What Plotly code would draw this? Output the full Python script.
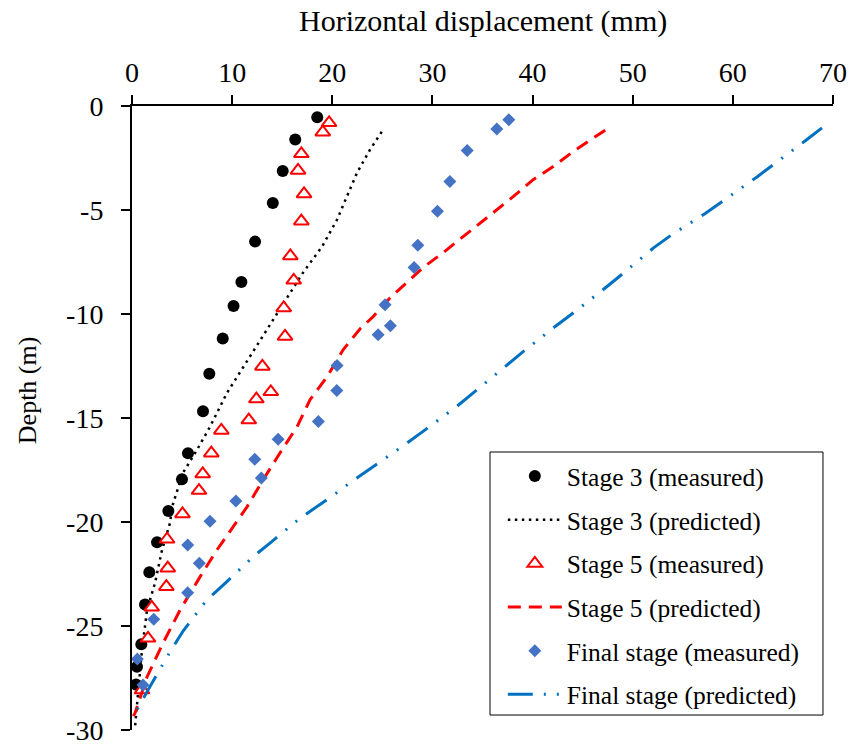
import plotly.graph_objects as go

# ---- Data ----
# Stage 3 measured: horizontal displacement (mm), depth (m)
s3m_x = [18.5, 16.3, 15.05, 14.06, 12.29, 10.92, 10.14, 9.06, 7.72, 7.09, 5.59, 4.99,
         3.63, 2.50, 1.73, 1.30, 0.93, 0.50, 0.40]
s3m_y = [-0.54, -1.61, -3.12, -4.66, -6.52, -8.46, -9.62, -11.18, -12.87, -14.67, -16.69,
         -17.94, -19.47, -20.97, -22.42, -23.97, -25.88, -26.96, -27.81]

# Stage 3 predicted
s3p_x = [24.94, 23.78, 22.48, 21.78, 21.48, 20.48, 18.98, 17.08, 15.48, 14.09, 12.79, 11.09,
         9.49, 7.79, 6.49, 5.09, 4.00, 3.80, 3.00, 2.30, 1.50, 1.00, 0.50, 0.30]
s3p_y = [-1.24, -2.09, -3.20, -4.02, -4.36, -5.46, -6.76, -8.01, -9.22, -10.27, -11.24, -12.54,
         -13.79, -15.42, -16.53, -17.64, -19.27, -20.04, -21.34, -22.93, -24.23, -26.15, -28.56, -29.86]

# Stage 5 measured
s5m_x = [19.68, 19.05, 16.91, 16.58, 17.18, 16.91, 15.81, 16.15, 15.15, 15.28, 13.02, 13.86,
         12.42, 11.66, 8.92, 7.92, 7.06, 6.69, 5.04, 3.50, 3.57, 3.43, 1.97, 1.60, 1.00]
s5m_y = [-0.81, -1.26, -2.30, -3.10, -4.23, -5.54, -7.21, -8.38, -9.71, -11.08, -12.52, -13.74,
         -14.09, -15.10, -15.60, -16.69, -17.69, -18.49, -19.61, -20.83, -22.22, -23.11, -24.10,
         -25.59, -28.08]

# Stage 5 predicted
s5p_x = [47.25, 44.06, 42.06, 40.06, 38.06, 36.46, 34.77, 32.77, 31.07, 29.07, 27.47, 25.77,
         24.08, 22.78, 21.08, 19.48, 17.78, 16.48, 14.79, 13.09, 11.49, 10.09, 8.49, 6.79,
         4.80, 3.10, 1.50, 0.30, 0.13]
s5p_y = [-1.16, -2.19, -2.91, -3.54, -4.36, -4.98, -5.61, -6.42, -7.05, -7.77, -8.49, -9.22,
         -10.13, -10.71, -11.72, -13.02, -14.12, -15.42, -16.67, -17.97, -19.27, -20.24, -21.34,
         -22.64, -24.23, -25.82, -27.45, -29.19, -29.33]

# Final stage measured
fm_x = [37.63, 36.43, 33.47, 31.74, 30.50, 28.54, 28.17, 25.27, 25.80, 24.58, 20.48, 20.45,
        18.61, 14.59, 12.26, 12.92, 10.37, 7.79, 5.56, 6.72, 5.56, 2.17, 0.53, 1.10]
fm_y = [-0.66, -1.10, -2.14, -3.63, -5.06, -6.70, -7.76, -9.55, -10.56, -11.00, -12.47, -13.68,
        -15.17, -16.02, -16.98, -17.88, -18.99, -19.96, -21.10, -21.98, -23.40, -24.68, -26.59,
        -27.84]

# Final stage predicted
fp_x = [68.90, 67.40, 62.41, 59.24, 57.24, 53.92, 52.08, 49.08, 47.25, 44.09, 42.09, 39.09,
        37.26, 34.27, 32.44, 29.27, 27.37, 24.11, 22.18, 20.05, 16.78, 13.96, 12.12, 9.29,
        7.46, 5.12, 3.80, 1.97, 0.30]
fp_y = [-1.05, -1.61, -3.41, -4.50, -5.17, -6.18, -6.82, -8.03, -8.75, -9.94, -10.66, -11.80,
        -12.52, -13.72, -14.44, -15.57, -16.24, -17.33, -17.97, -18.73, -19.82, -20.94, -21.66,
        -22.95, -23.75, -25.23, -26.24, -27.76, -29.20]

x_ticks = [0, 10, 20, 30, 40, 50, 60, 70]
y_ticks = [0, -5, -10, -15, -20, -25, -30]

FONT = "Liberation Serif, Times New Roman, serif"

fig = go.Figure()
fig.add_trace(go.Scatter(x=s3m_x, y=s3m_y, mode="markers", name="Stage 3 (measured)",
                         legendgroup="a",
                         marker=dict(symbol="circle", size=12, color="black")))
fig.add_trace(go.Scatter(x=s3p_x, y=s3p_y, mode="lines", name="Stage 3 (predicted)",
                         legendgroup="b",
                         line=dict(color="black", width=2.5, dash="2.5px,4.5px")))
fig.add_trace(go.Scatter(x=s5m_x, y=s5m_y, mode="markers", name="Stage 5 (measured)",
                         legendgroup="c",
                         marker=dict(symbol="triangle-up", size=13, color="white",
                                     line=dict(color="#FF0000", width=2))))
fig.add_trace(go.Scatter(x=s5p_x, y=s5p_y, mode="lines", name="Stage 5 (predicted)",
                         legendgroup="d",
                         line=dict(color="#FF0000", width=3, dash="13px,8px")))
fig.add_trace(go.Scatter(x=fm_x, y=fm_y, mode="markers", name="Final stage (measured)",
                         legendgroup="e",
                         marker=dict(symbol="diamond", size=10, color="#4472C4")))
fig.add_trace(go.Scatter(x=fp_x, y=fp_y, mode="lines", name="Final stage (predicted)",
                         legendgroup="f",
                         line=dict(color="#0070C0", width=3,
                                   dash="25px,11px,2px,11px,2px,11px")))

fig.update_layout(
    template="none",
    width=853, height=748,
    margin=dict(l=132, r=20, t=106, b=18, autoexpand=False),
    plot_bgcolor="white", paper_bgcolor="white",
    font=dict(family=FONT, color="black", size=28),
    showlegend=True,
    hovermode=False,
    legend=dict(x=0.529, y=0.4439, xanchor="left", yanchor="top",
                borderwidth=0, bgcolor="rgba(0,0,0,0)",
                font=dict(family=FONT, size=25.5, color="black"),
                itemwidth=54, tracegroupgap=7.5, traceorder="grouped"),
    shapes=[dict(type="rect", xref="paper", yref="paper", layer="above",
                 x0=0.5107, x1=0.9857, y0=0.024, y1=0.4455,
                 line=dict(color="black", width=1), fillcolor="white")],
    xaxis=dict(range=[0, 70], side="top", tickvals=x_ticks, ticktext=[str(v) for v in x_ticks],
               showgrid=False, zeroline=False, showline=True, linecolor="black", linewidth=2,
               ticks="outside", ticklen=9, tickwidth=2, tickcolor="black", automargin=False,
               ticklabelstandoff=2, tickfont=dict(family=FONT, size=28)),
    yaxis=dict(range=[-30, 0], tickvals=y_ticks, ticktext=[str(v) for v in y_ticks],
               showgrid=False, zeroline=False, showline=True, linecolor="black", linewidth=2,
               ticks="outside", ticklen=9, tickwidth=2, tickcolor="black", automargin=False,
               ticklabelstandoff=12, tickfont=dict(family=FONT, size=28)),
    annotations=[
        dict(text="Horizontal displacement (mm)", xref="paper", yref="paper",
             x=0.5, y=1.136, xanchor="center", yanchor="middle", showarrow=False,
             font=dict(family=FONT, size=30, color="black")),
        dict(text="Depth (m)", xref="paper", yref="paper", textangle=-90,
             x=-0.148, y=0.545, xanchor="center", yanchor="middle", showarrow=False,
             font=dict(family=FONT, size=26, color="black")),
    ],
)

# remove the browser's default 8px page margin so the figure fills the window exactly
fig.write_html("out.html", config={"displayModeBar": False, "staticPlot": True},
               post_script="document.body.style.margin='0';")
